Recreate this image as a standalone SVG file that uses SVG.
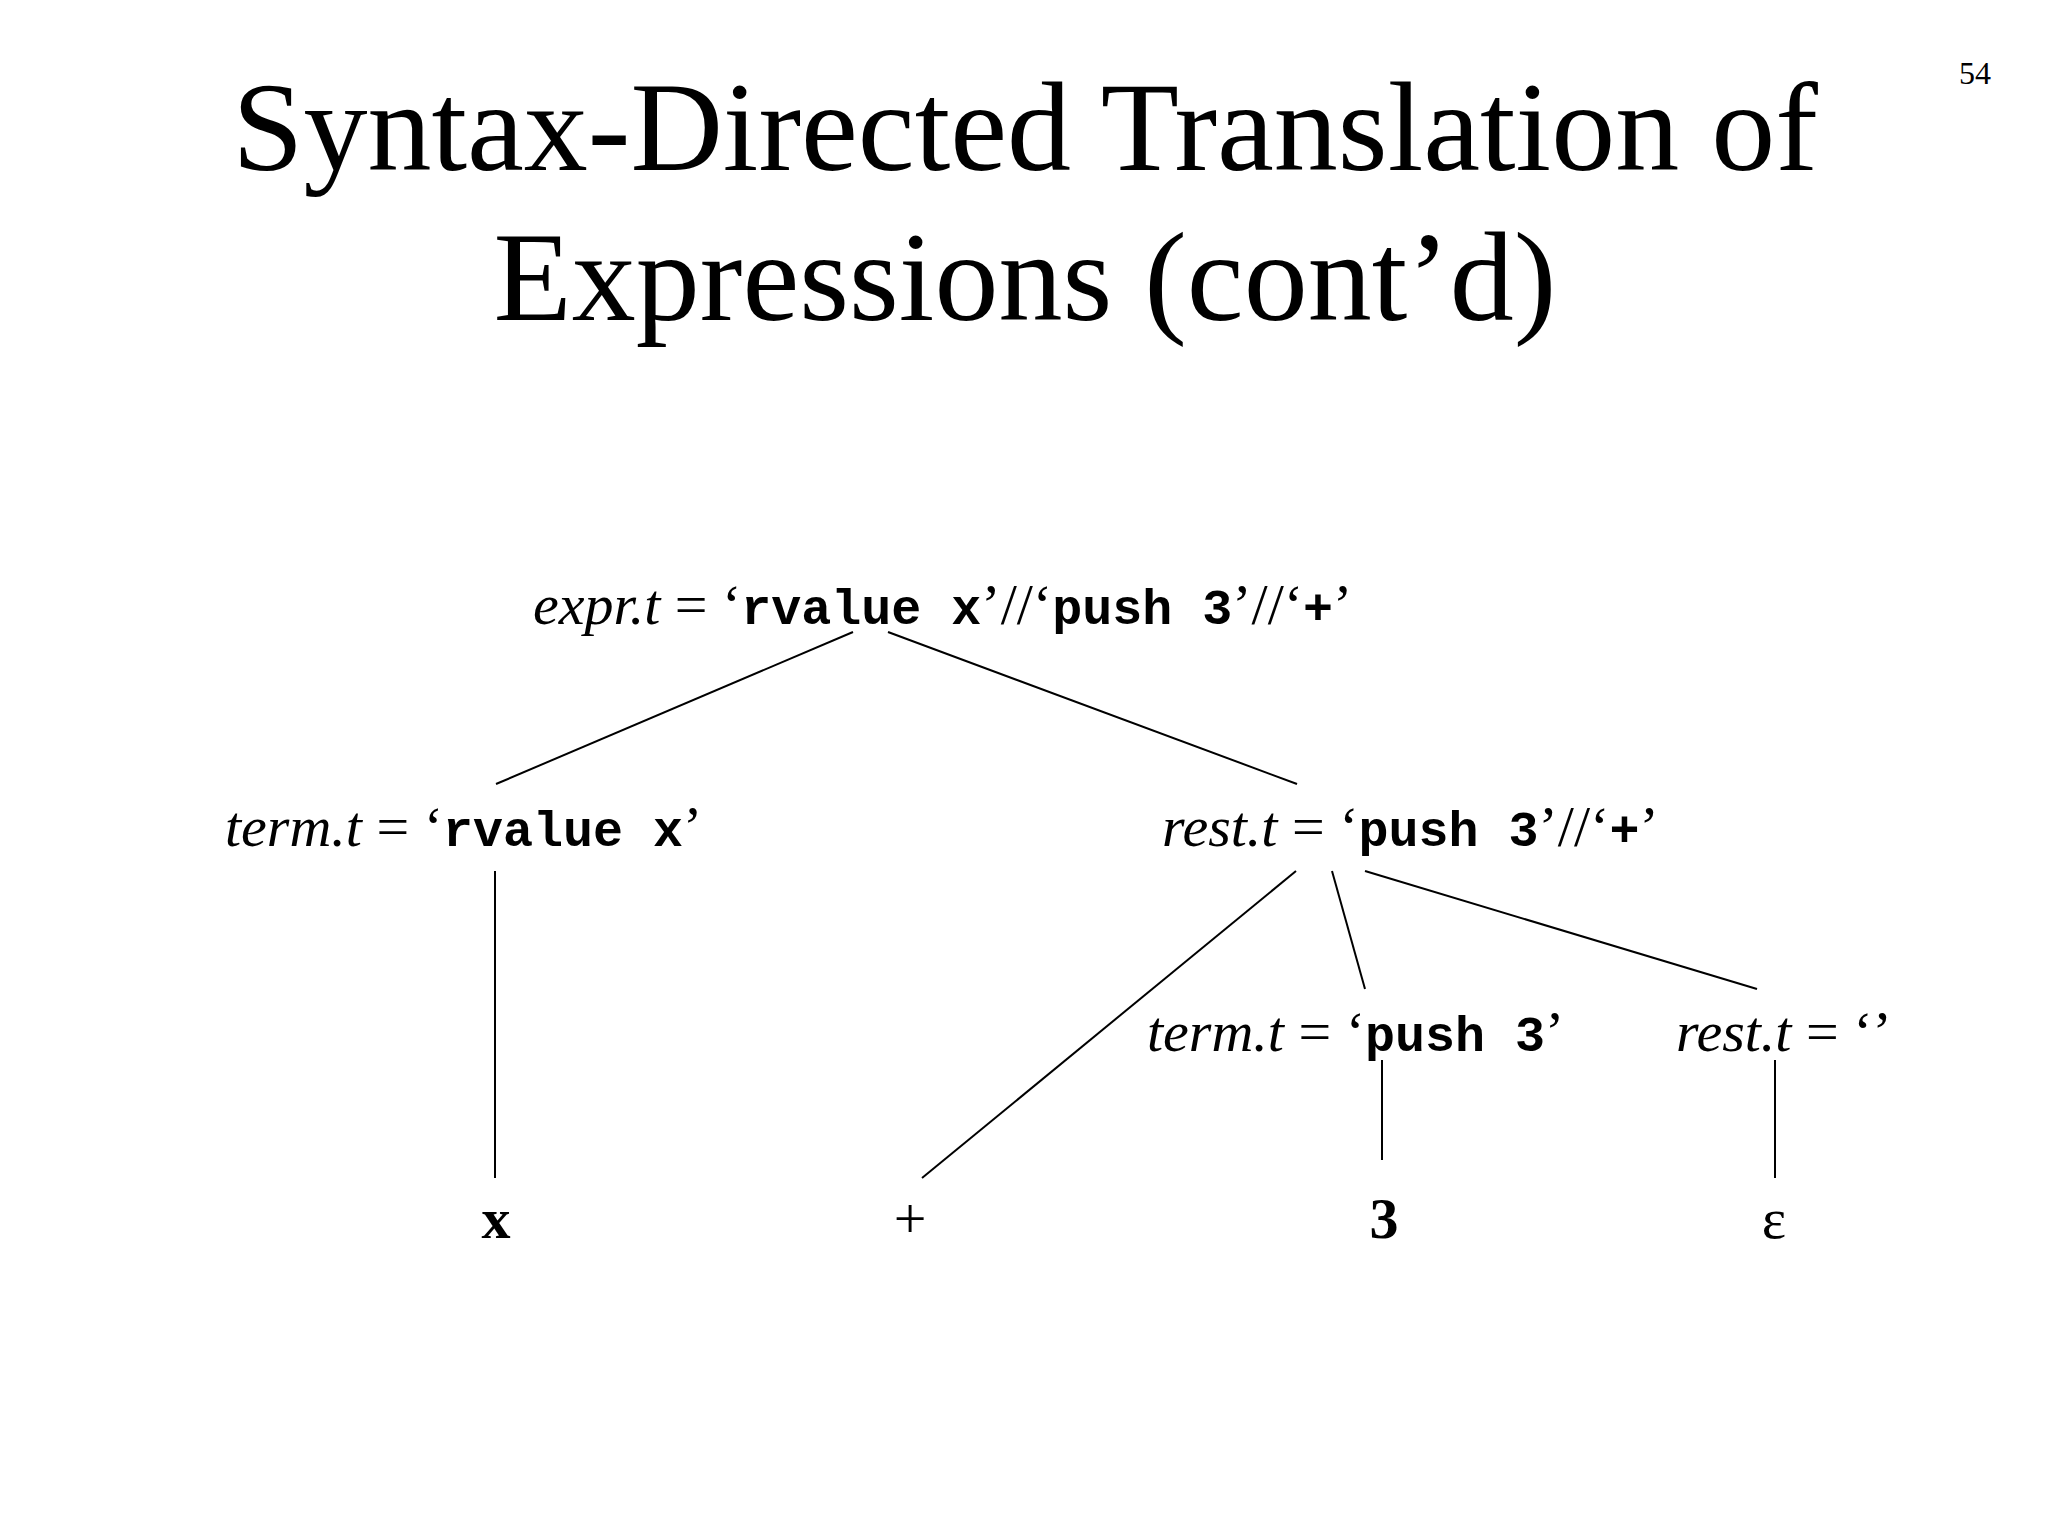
<svg xmlns="http://www.w3.org/2000/svg" width="2048" height="1536" viewBox="0 0 2048 1536">
<style>
.s{font-family:"Liberation Serif",serif;font-size:58px;fill:#000}
.i{font-style:italic}
.m{font-family:"Liberation Mono",monospace;font-weight:bold;font-size:50px}
.t{font-family:"Liberation Serif",serif;font-size:128px;text-anchor:middle}
line{stroke:#000;stroke-width:2}
</style>
<rect width="2048" height="1536" fill="#fff"/>
<g id="title">
<text class="t" x="1025" y="170">Syntax-Directed Translation of</text>
<text class="t" x="1025" y="320">Expressions (cont’d)</text>
<text x="1975" y="84" style="font-family:'Liberation Serif',serif;font-size:32px;text-anchor:middle">54</text>
</g>
<g id="connectors">
<line x1="853" y1="632" x2="496" y2="784"/>
<line x1="888" y1="632" x2="1297" y2="784"/>
<line x1="495" y1="871" x2="495" y2="1178"/>
<line x1="1296" y1="871" x2="922" y2="1178"/>
<line x1="1332" y1="871" x2="1365" y2="989"/>
<line x1="1365" y1="871" x2="1757" y2="989"/>
<line x1="1382" y1="1060" x2="1382" y2="1160"/>
<line x1="1775" y1="1060" x2="1775" y2="1178"/>
</g>
<g id="expr"><text class="s" x="533" y="624"><tspan class="i">expr.t</tspan> = ‘<tspan class="m">rvalue x</tspan>’//‘<tspan class="m">push 3</tspan>’//‘<tspan class="m">+</tspan>’</text></g>
<g id="term1"><text class="s" x="225" y="846"><tspan class="i">term.t</tspan> = ‘<tspan class="m">rvalue x</tspan>’</text></g>
<g id="rest1"><text class="s" x="1162" y="846"><tspan class="i">rest.t</tspan> = ‘<tspan class="m">push 3</tspan>’//‘<tspan class="m">+</tspan>’</text></g>
<g id="term2"><text class="s" x="1147" y="1051"><tspan class="i">term.t</tspan> = ‘<tspan class="m">push 3</tspan>’</text></g>
<g id="rest2"><text class="s" x="1676" y="1051"><tspan class="i">rest.t</tspan> = ‘’</text></g>
<g id="x"><text class="s" x="496" y="1238" text-anchor="middle" font-weight="bold">x</text></g>
<g id="plus"><text class="s" x="910" y="1238" text-anchor="middle">+</text></g>
<g id="three"><text class="s" x="1384" y="1238" text-anchor="middle" font-weight="bold">3</text></g>
<g id="eps"><text class="s" x="1774" y="1238" text-anchor="middle">ε</text></g>
</svg>
